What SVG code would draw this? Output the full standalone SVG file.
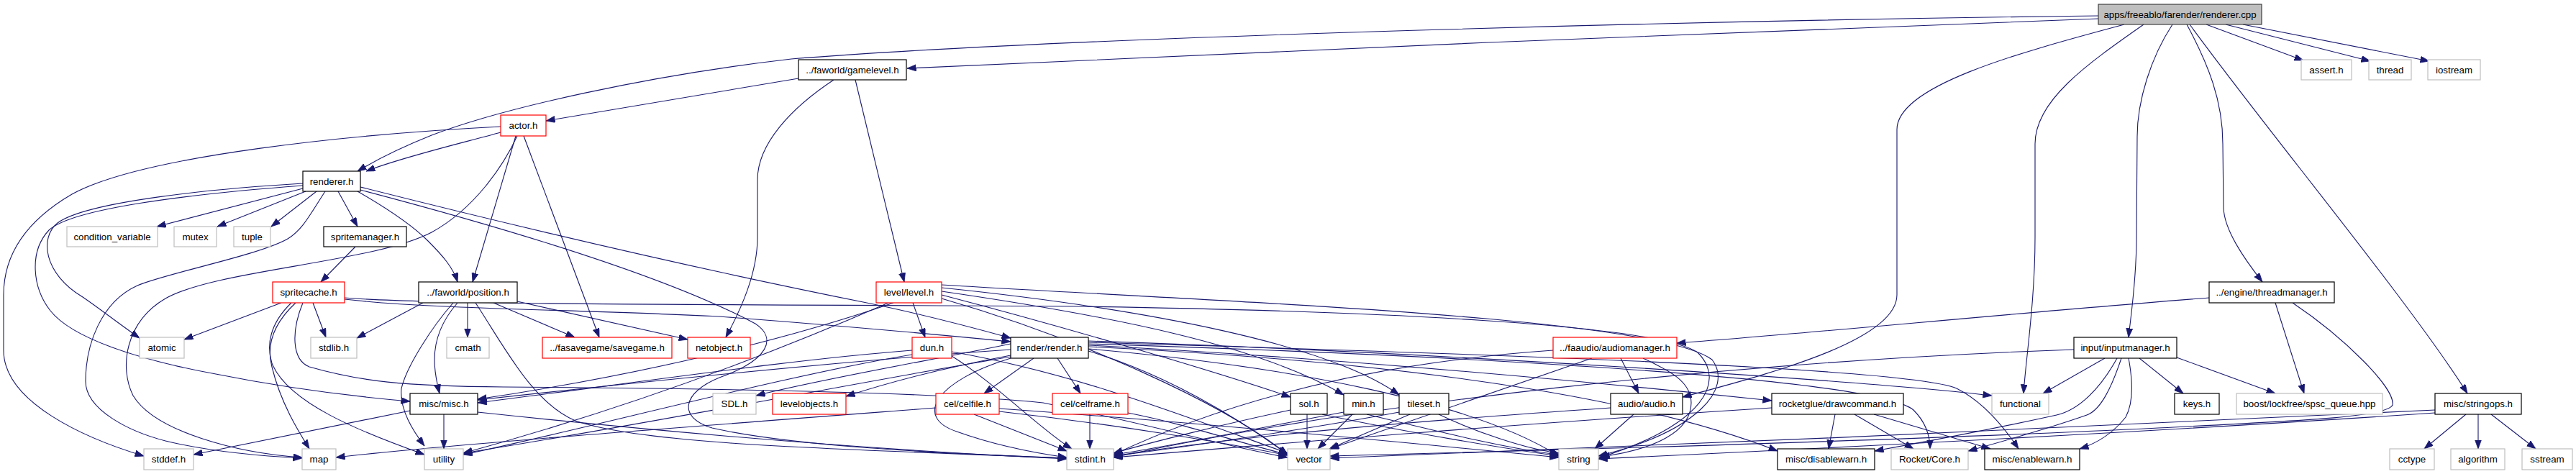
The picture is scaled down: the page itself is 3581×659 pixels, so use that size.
<svg xmlns="http://www.w3.org/2000/svg" width="3581" height="659" viewBox="0 0 3581 659">
<defs>
<marker id="ah" markerUnits="userSpaceOnUse" markerWidth="14" markerHeight="10" refX="12.5" refY="4.5" orient="auto"><path d="M0,0 L12.5,4.5 L0,9 z" fill="#191970" stroke="#191970" stroke-width="0.8"/></marker>
</defs>
<style>
rect{stroke-width:1.2;fill:#fff}
.b{stroke:#000}
.g{stroke:#bfbfbf}
.r{stroke:#f00}
.root{fill:#bfbfbf;stroke:#404040}
text{font-family:"Liberation Sans",Arial,sans-serif;font-size:13.3px;fill:#000;text-anchor:middle}
#edges path{fill:none;stroke:#191970;stroke-width:1.1;marker-end:url(#ah)}
</style>
<rect x="0" y="0" width="3581" height="659" style="fill:#fff;stroke:none"/>
<g id="edges">
<path d="M2917,26 C2500,42 1700,72 1261,95"/>
<path d="M2917,22 C2400,28 1500,50 1100,82 C900,105 700,150 600,188 C560,204 530,218 497,238"/>
<path d="M2953,34 C2800,75 2637,120 2637,180 L2637,410 C2637,470 2480,515 2339,552"/>
<path d="M2980,34 C2900,90 2829,140 2829,200 L2829,330 C2829,420 2816,500 2813,547"/>
<path d="M3020,34 C2990,80 2971,140 2971,190 L2970,330 C2970,390 2962,440 2959,469"/>
<path d="M3040,34 C3070,90 3090,140 3090,200 L3091,289 C3092,320 3120,360 3145,392"/>
<path d="M3044,34 C3150,180 3350,420 3430,547"/>
<path d="M3067,34 L3202,84"/>
<path d="M3094,34 L3295,85"/>
<path d="M3118,34 L3377,85"/>
<path d="M1110,109 L759,168"/>
<path d="M1159,111 C1100,150 1053,200 1053,250 L1053,330 C1053,380 1030,430 1009,469"/>
<path d="M1189,111 L1257,392"/>
<path d="M696,184 C650,197 560,218 509,238"/>
<path d="M696,176 C500,186 200,215 100,270 C40,305 5,350 5,410 L5,487 C5,560 120,610 200,634"/>
<path d="M719,189 C700,230 660,290 600,323 C520,365 300,375 230,415 C175,447 165,510 185,550 C215,600 330,630 420,636"/>
<path d="M717,189 L657,392"/>
<path d="M728,189 L833,469"/>
<path d="M421,262 L218,315"/>
<path d="M425,266 L302,315"/>
<path d="M440,266 L377,315"/>
<path d="M470,266 L497,315"/>
<path d="M421,255 C300,262 120,280 80,310 C55,330 60,380 115,413 C140,430 165,450 194,470"/>
<path d="M421,258 C260,270 100,290 68,320 C40,350 45,400 70,432 C100,470 191,500 300,520 C400,540 500,552 570,558"/>
<path d="M452,266 C430,300 420,320 400,332 C360,355 230,380 191,397 C140,420 119,480 119,530 C119,570 180,600 230,613 C300,630 380,635 420,637"/>
<path d="M497,266 C530,285 570,310 595,335 C615,355 630,372 636,392"/>
<path d="M501,260 C600,285 900,360 1200,420 C1280,436 1340,452 1405,470"/>
<path d="M501,264 C600,290 900,370 1050,450 C1080,470 1070,500 1000,525 C950,545 940,580 990,595 C1100,620 1300,630 1483,637"/>
<path d="M494,343 L446,392"/>
<path d="M391,421 L256,472"/>
<path d="M435,421 L453,469"/>
<path d="M411,421 C380,450 370,480 378,510 C390,560 415,600 430,624"/>
<path d="M405,421 C375,450 370,480 378,505 C400,560 500,600 590,632"/>
<path d="M479,416 C600,430 800,430 1000,440 C1200,455 1300,465 1405,475"/>
<path d="M479,414 C600,424 1000,423 1500,426 C1900,432 2300,450 2360,490 C2400,530 2370,590 2222,637"/>
<path d="M421,421 C405,460 405,500 430,510 C500,530 560,537 700,538 C1000,540 1300,545 1450,560 C1600,590 1700,620 1790,636"/>
<path d="M588,421 L496,470"/>
<path d="M650,421 L650,469"/>
<path d="M686,421 L799,469"/>
<path d="M719,419 L956,472"/>
<path d="M636,421 C615,445 604,470 604,500 C604,520 608,535 611,547"/>
<path d="M630,421 C600,455 565,510 558,540 C555,570 575,600 590,620"/>
<path d="M661,421 C700,480 740,560 800,585 C900,620 1200,625 1483,637"/>
<path d="M617,576 L617,624"/>
<path d="M570,571 L269,632"/>
<path d="M664,573 C900,598 1200,625 1483,638"/>
<path d="M1269,421 L1286,469"/>
<path d="M1242,421 C1100,470 900,520 664,555"/>
<path d="M1235,421 C1100,480 900,560 644,630"/>
<path d="M1309,410 C1500,460 1700,520 1794,552"/>
<path d="M1309,405 C1550,440 1750,480 1868,549"/>
<path d="M1309,400 C1600,430 1850,480 1945,549"/>
<path d="M1309,396 C1700,420 2300,440 2380,500 C2410,540 2360,600 2222,634"/>
<path d="M1309,415 C1500,470 1700,560 1790,632"/>
<path d="M1268,487 C1100,500 900,530 664,560"/>
<path d="M1268,493 C1100,520 800,600 644,632"/>
<path d="M1323,489 C1500,520 1650,580 1790,630"/>
<path d="M1323,495 C1380,530 1450,600 1490,624"/>
<path d="M1437,498 L1368,547"/>
<path d="M1470,498 L1502,547"/>
<path d="M1405,478 C1300,500 1150,525 1051,550"/>
<path d="M1405,494 C1320,510 1240,530 1176,551"/>
<path d="M1405,486 C1200,500 900,530 664,556"/>
<path d="M1405,496 C1200,530 900,590 644,630"/>
<path d="M1405,498 C1300,530 1270,580 1330,600 C1380,618 1440,630 1483,636"/>
<path d="M1513,488 C1620,520 1720,580 1790,632"/>
<path d="M1513,485 C1800,510 2050,560 2167,634"/>
<path d="M1513,480 C1900,500 2300,540 2463,557"/>
<path d="M1513,478 C1900,490 2600,520 2660,570 C2680,590 2683,610 2683,624"/>
<path d="M1513,476 C2000,490 2650,510 2720,540 C2760,560 2790,600 2806,624"/>
<path d="M1513,482 C2000,505 2300,560 2471,627"/>
<path d="M1513,474 C2000,490 2600,530 2769,550"/>
<path d="M1301,567 C1000,590 600,620 467,636"/>
<path d="M1354,576 L1483,627"/>
<path d="M1389,572 C1550,590 1700,615 1790,633"/>
<path d="M1389,568 C1700,590 2000,620 2167,636"/>
<path d="M1515,576 L1515,624"/>
<path d="M1568,574 C1650,590 1720,615 1790,632"/>
<path d="M1817,576 L1817,624"/>
<path d="M1794,570 C1700,590 1600,615 1548,630"/>
<path d="M1838,576 C1950,600 2100,625 2167,634"/>
<path d="M1880,576 L1832,624"/>
<path d="M1868,573 C1750,595 1620,622 1548,632"/>
<path d="M1900,576 C2000,600 2100,625 2167,632"/>
<path d="M1960,576 L1848,624"/>
<path d="M1945,573 C1800,600 1620,625 1548,634"/>
<path d="M2000,576 C2050,600 2120,624 2167,630"/>
<path d="M2253,498 L2278,547"/>
<path d="M2284,498 C2320,515 2351,530 2351,560 C2351,600 2300,625 2225,635"/>
<path d="M2213,498 L1849,624"/>
<path d="M2159,487 C1900,505 1700,560 1548,632"/>
<path d="M2271,576 L2217,624"/>
<path d="M2239,567 C1900,590 1700,610 1548,634"/>
<path d="M2551,576 L2542,624"/>
<path d="M2578,576 L2660,624"/>
<path d="M2605,576 L2767,624"/>
<path d="M2463,567 C2100,590 1800,615 1548,636"/>
<path d="M2926,498 L2840,547"/>
<path d="M2974,498 L3035,547"/>
<path d="M3026,497 L3163,547"/>
<path d="M2943,498 C2920,540 2890,570 2859,577 C2800,590 2700,610 2606,627"/>
<path d="M2949,498 C2935,540 2920,570 2901,577 C2850,595 2790,612 2736,627"/>
<path d="M2959,498 C2965,530 2966,560 2955,580 C2935,605 2910,618 2891,624"/>
<path d="M2883,486 C2400,503 1900,560 1548,636"/>
<path d="M3071,414 C2800,435 2500,465 2331,477"/>
<path d="M3163,421 L3203,547"/>
<path d="M3187,421 C3260,470 3330,540 3326,563 C3319,580 3200,585 3000,595 C2600,615 2000,630 1849,634"/>
<path d="M3428,576 L3370,624"/>
<path d="M3445,576 L3445,624"/>
<path d="M3463,576 L3525,624"/>
<path d="M3385,570 C3000,590 2300,620 1849,637"/>
<path d="M3385,574 C3000,600 2500,625 2222,638"/>
</g>
<g id="n0"><rect class="root" x="2917" y="6" width="227" height="28"/><text x="3030.5" y="25">apps/freeablo/farender/renderer.cpp</text></g>
<g id="n1"><rect class="b" x="1110" y="83" width="150" height="28"/><text x="1185" y="102">../faworld/gamelevel.h</text></g>
<g id="n2"><rect class="g" x="3199" y="83" width="70" height="28"/><text x="3234" y="102">assert.h</text></g>
<g id="n3"><rect class="g" x="3293" y="83" width="59" height="28"/><text x="3322.5" y="102">thread</text></g>
<g id="n4"><rect class="g" x="3375" y="83" width="73" height="28"/><text x="3411.5" y="102">iostream</text></g>
<g id="n5"><rect class="r" x="696" y="160" width="63" height="29"/><text x="727.5" y="179">actor.h</text></g>
<g id="n6"><rect class="b" x="421" y="238" width="80" height="28"/><text x="461" y="257">renderer.h</text></g>
<g id="n7"><rect class="g" x="93" y="315" width="126" height="28"/><text x="156" y="334">condition_variable</text></g>
<g id="n8"><rect class="g" x="242" y="315" width="59" height="28"/><text x="271.5" y="334">mutex</text></g>
<g id="n9"><rect class="g" x="325" y="315" width="51" height="28"/><text x="350.5" y="334">tuple</text></g>
<g id="n10"><rect class="b" x="450" y="315" width="115" height="28"/><text x="507.5" y="334">spritemanager.h</text></g>
<g id="n11"><rect class="r" x="379" y="392" width="100" height="29"/><text x="429" y="411">spritecache.h</text></g>
<g id="n12"><rect class="b" x="582" y="392" width="137" height="29"/><text x="650.5" y="411">../faworld/position.h</text></g>
<g id="n13"><rect class="r" x="1218" y="392" width="91" height="29"/><text x="1263.5" y="411">level/level.h</text></g>
<g id="n14"><rect class="b" x="3071" y="392" width="174" height="29"/><text x="3158" y="411">../engine/threadmanager.h</text></g>
<g id="n15"><rect class="g" x="194" y="469" width="62" height="29"/><text x="225" y="488">atomic</text></g>
<g id="n16"><rect class="g" x="432" y="469" width="64" height="29"/><text x="464" y="488">stdlib.h</text></g>
<g id="n17"><rect class="g" x="621" y="469" width="59" height="29"/><text x="650.5" y="488">cmath</text></g>
<g id="n18"><rect class="r" x="754" y="469" width="180" height="29"/><text x="844" y="488">../fasavegame/savegame.h</text></g>
<g id="n19"><rect class="r" x="956" y="469" width="87" height="29"/><text x="999.5" y="488">netobject.h</text></g>
<g id="n20"><rect class="r" x="1268" y="469" width="55" height="29"/><text x="1295.5" y="488">dun.h</text></g>
<g id="n21"><rect class="b" x="1405" y="469" width="108" height="29"/><text x="1459" y="488">render/render.h</text></g>
<g id="n22"><rect class="r" x="2159" y="469" width="172" height="29"/><text x="2245" y="488">../faaudio/audiomanager.h</text></g>
<g id="n23"><rect class="b" x="2883" y="469" width="143" height="29"/><text x="2954.5" y="488">input/inputmanager.h</text></g>
<g id="n24"><rect class="b" x="570" y="547" width="94" height="29"/><text x="617" y="566">misc/misc.h</text></g>
<g id="n25"><rect class="g" x="991" y="547" width="60" height="29"/><text x="1021" y="566">SDL.h</text></g>
<g id="n26"><rect class="r" x="1074" y="547" width="102" height="29"/><text x="1125" y="566">levelobjects.h</text></g>
<g id="n27"><rect class="r" x="1301" y="547" width="88" height="29"/><text x="1345" y="566">cel/celfile.h</text></g>
<g id="n28"><rect class="r" x="1463" y="547" width="105" height="29"/><text x="1515.5" y="566">cel/celframe.h</text></g>
<g id="n29"><rect class="b" x="1794" y="547" width="51" height="29"/><text x="1819.5" y="566">sol.h</text></g>
<g id="n30"><rect class="b" x="1868" y="547" width="55" height="29"/><text x="1895.5" y="566">min.h</text></g>
<g id="n31"><rect class="b" x="1945" y="547" width="69" height="29"/><text x="1979.5" y="566">tileset.h</text></g>
<g id="n32"><rect class="b" x="2239" y="547" width="100" height="29"/><text x="2289" y="566">audio/audio.h</text></g>
<g id="n33"><rect class="b" x="2463" y="547" width="183" height="29"/><text x="2554.5" y="566">rocketglue/drawcommand.h</text></g>
<g id="n34"><rect class="g" x="2769" y="547" width="79" height="29"/><text x="2808.5" y="566">functional</text></g>
<g id="n35"><rect class="b" x="3023" y="547" width="62" height="29"/><text x="3054" y="566">keys.h</text></g>
<g id="n36"><rect class="g" x="3109" y="547" width="203" height="29"/><text x="3210.5" y="566">boost/lockfree/spsc_queue.hpp</text></g>
<g id="n37"><rect class="b" x="3385" y="547" width="120" height="29"/><text x="3445" y="566">misc/stringops.h</text></g>
<g id="n38"><rect class="g" x="200" y="624" width="69" height="29"/><text x="234.5" y="643">stddef.h</text></g>
<g id="n39"><rect class="g" x="420" y="624" width="47" height="29"/><text x="443.5" y="643">map</text></g>
<g id="n40"><rect class="g" x="590" y="624" width="54" height="29"/><text x="617" y="643">utility</text></g>
<g id="n41"><rect class="g" x="1483" y="624" width="65" height="29"/><text x="1515.5" y="643">stdint.h</text></g>
<g id="n42"><rect class="g" x="1790" y="624" width="59" height="29"/><text x="1819.5" y="643">vector</text></g>
<g id="n43"><rect class="g" x="2167" y="624" width="55" height="29"/><text x="2194.5" y="643">string</text></g>
<g id="n44"><rect class="b" x="2471" y="624" width="135" height="29"/><text x="2538.5" y="643">misc/disablewarn.h</text></g>
<g id="n45"><rect class="g" x="2629" y="624" width="107" height="29"/><text x="2682.5" y="643">Rocket/Core.h</text></g>
<g id="n46"><rect class="b" x="2759" y="624" width="132" height="29"/><text x="2825" y="643">misc/enablewarn.h</text></g>
<g id="n47"><rect class="g" x="3322" y="624" width="62" height="29"/><text x="3353" y="643">cctype</text></g>
<g id="n48"><rect class="g" x="3407" y="624" width="75" height="29"/><text x="3444.5" y="643">algorithm</text></g>
<g id="n49"><rect class="g" x="3506" y="624" width="70" height="29"/><text x="3541" y="643">sstream</text></g>
</svg>
